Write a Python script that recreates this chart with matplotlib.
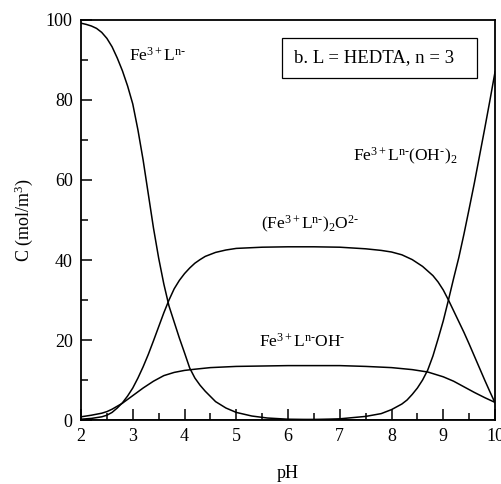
import matplotlib
matplotlib.use("Agg")
import matplotlib.pyplot as plt
from matplotlib.patches import Rectangle
from matplotlib.ticker import MultipleLocator

plt.rcParams['font.family'] = ['Liberation Serif', 'DejaVu Serif']
plt.rcParams['mathtext.fontset'] = 'custom'
plt.rcParams['mathtext.rm'] = 'Liberation Serif'
plt.rcParams['mathtext.it'] = 'Liberation Serif:italic'
plt.rcParams['mathtext.bf'] = 'Liberation Serif:bold'

# Fe3+L n-
ph_fel = [2.0, 2.1, 2.2, 2.3, 2.4, 2.5, 2.6, 2.7, 2.8, 2.9, 3.0, 3.1, 3.2, 3.3, 3.4, 3.5, 3.6, 3.7,
          3.8, 3.9, 4.0, 4.1, 4.2, 4.3, 4.4, 4.6, 4.8, 5.0, 5.3, 5.6, 6.0, 7.0, 8.0, 10.0]
c_fel = [99.2, 98.9, 98.5, 97.9, 96.9, 95.4, 93.3, 90.5, 87.3, 83.5, 79.0, 72.5, 65.0, 56.5, 48.0, 40.5, 34.0, 28.5,
         24.5, 20.5, 16.8, 13.0, 10.5, 8.7, 7.2, 4.6, 3.0, 1.9, 1.0, 0.5, 0.2, 0.05, 0.0, 0.0]

# (Fe3+L n-)2 O2-
ph_dim = [2.0, 2.2, 2.4, 2.5, 2.6, 2.7, 2.8, 2.9, 3.0, 3.1, 3.2, 3.3, 3.4, 3.5, 3.6, 3.7,
          3.8, 3.9, 4.0, 4.1, 4.2, 4.3, 4.4, 4.6, 4.8, 5.0, 5.5, 6.0, 6.5, 7.0, 7.5, 7.8, 8.0, 8.2,
          8.4, 8.6, 8.8, 8.9, 9.0, 9.1, 9.2, 9.3, 9.4, 9.5, 9.6, 9.7, 9.8, 9.9, 10.0]
c_dim = [0.2, 0.4, 0.8, 1.2, 1.9, 3.0, 4.3, 6.0, 8.0, 10.5, 13.3, 16.4, 19.8, 23.3, 26.8, 30.0,
         32.8, 34.9, 36.6, 38.0, 39.2, 40.1, 40.9, 41.9, 42.5, 42.9, 43.2, 43.3, 43.3, 43.2, 42.8, 42.4, 42.0, 41.3,
         40.1, 38.4, 36.1, 34.5, 32.5, 30.0, 27.3, 24.6, 21.9, 19.0, 16.0, 13.0, 10.0, 7.1, 4.3]

# Fe3+L n- OH-
ph_oh = [2.0, 2.2, 2.4, 2.5, 2.6, 2.8, 3.0, 3.2, 3.4, 3.6, 3.8, 4.0, 4.2, 4.5, 5.0,
         6.0, 7.0, 7.5, 8.0, 8.4, 8.7, 9.0, 9.2, 9.4, 9.6, 9.8, 10.0]
c_oh = [0.8, 1.2, 1.7, 2.1, 2.7, 4.2, 6.1, 8.0, 9.7, 11.1, 11.9, 12.4, 12.7, 13.1, 13.4,
        13.6, 13.6, 13.4, 13.1, 12.6, 12.0, 10.8, 9.7, 8.3, 6.9, 5.6, 4.4]

# Fe3+L n- (OH-)2
ph_oh2 = [2.0, 6.0, 6.5, 7.0, 7.5, 7.8, 8.0, 8.2, 8.3, 8.4, 8.5, 8.6, 8.7, 8.8, 8.9,
          9.0, 9.1, 9.2, 9.3, 9.4, 9.5, 9.6, 9.7, 9.8, 9.9, 10.0]
c_oh2 = [0.0, 0.0, 0.1, 0.3, 0.9, 1.6, 2.6, 4.0, 5.0, 6.4, 8.0, 10.0, 12.5, 16.0, 20.3,
         24.8, 30.0, 35.4, 40.6, 46.5, 52.8, 59.2, 66.0, 72.8, 79.8, 87.0]

H = '\u2010'  # short hyphen used as charge sign

fig = plt.figure(figsize=(5.02, 4.84), dpi=100)
ax = fig.add_axes([0.1614, 0.1322, 0.8247, 0.8265])

lw = 1.1
for x, y in [(ph_fel, c_fel), (ph_dim, c_dim), (ph_oh, c_oh), (ph_oh2, c_oh2)]:
    ax.plot(x, y, color='black', lw=lw)

ax.set_xlim(2, 10)
ax.set_ylim(0, 100)
ax.xaxis.set_major_locator(MultipleLocator(1))
ax.xaxis.set_minor_locator(MultipleLocator(0.5))
ax.yaxis.set_major_locator(MultipleLocator(20))
ax.yaxis.set_minor_locator(MultipleLocator(10))
ax.tick_params(which='both', direction='in', top=False, right=False, labelsize=13, width=1.1)
ax.tick_params(which='major', length=8, pad=6)
ax.tick_params(which='minor', length=5)
for s in ax.spines.values():
    s.set_linewidth(1.3)

ax.set_xlabel('pH', fontsize=13, labelpad=14)
ax.set_ylabel(r'C (mol/m$^{3}$)', fontsize=13, labelpad=8)

fs = 12.5
ax.text(3.48, 91, r'Fe$^{3+}$L$^{\mathrm{n' + H + '}}$', fontsize=fs, ha='center', va='center')
ax.text(8.26, 66, r'Fe$^{3+}$L$^{\mathrm{n' + H + r'}}$(OH$^{' + H + r'}$)$_{2}$',
        fontsize=fs, ha='center', va='center')
ax.text(6.42, 48.8, r'(Fe$^{3+}$L$^{\mathrm{n' + H + r'}}$)$_{2}$O$^{2' + H + '}$',
        fontsize=fs, ha='center', va='center')
ax.text(6.27, 19.5, r'Fe$^{3+}$L$^{\mathrm{n' + H + r'}}$OH$^{' + H + '}$',
        fontsize=fs, ha='center', va='center')

ax.add_patch(Rectangle((5.88, 85.5), 3.77, 10.0, fill=True, fc='white', ec='black', lw=0.9, zorder=3))
ax.text(6.12, 90.5, 'b. L = HEDTA, n = 3', fontsize=13.5, ha='left', va='center', zorder=4)

fig.savefig('out.png', dpi=100)
